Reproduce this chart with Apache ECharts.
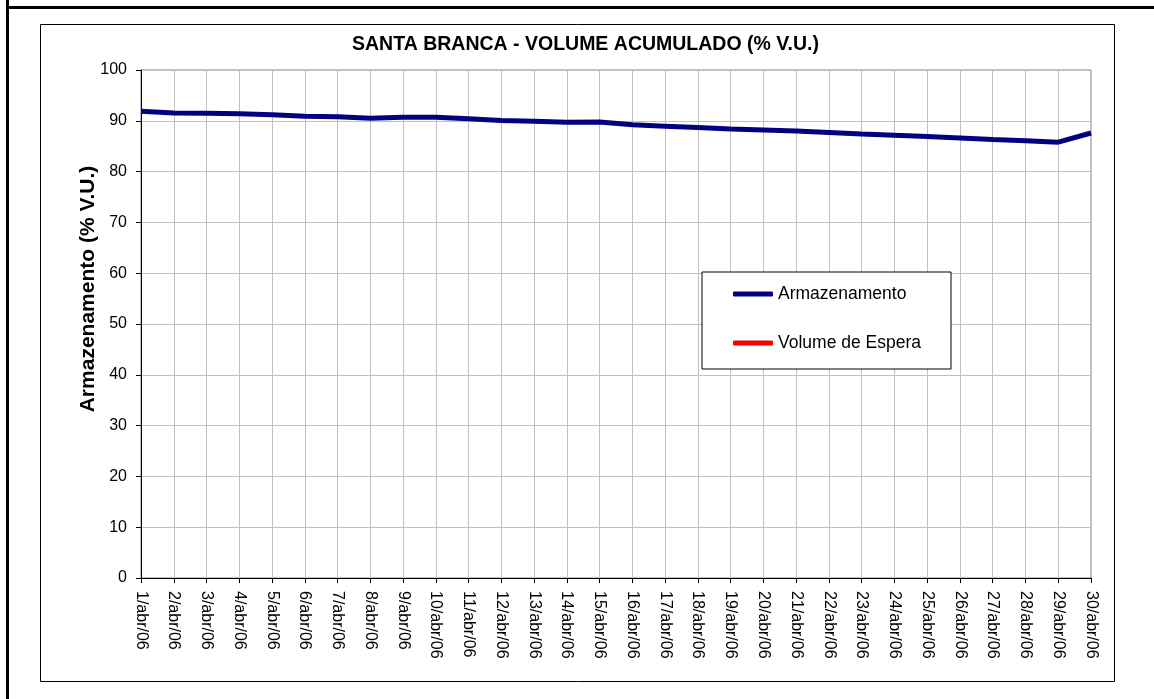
<!DOCTYPE html>
<html>
<head>
<meta charset="utf-8">
<script src="https://cdn.jsdelivr.net/npm/echarts@6/dist/echarts.min.js"></script>
<style>
html,body{margin:0;padding:0;background:#fff;}
#chart{width:1154px;height:699px;}
</style>
</head>
<body>
<div id="chart"></div>
<script>
const titleText = 'SANTA BRANCA - VOLUME ACUMULADO (% V.U.)';
const yAxisTitle = 'Armazenamento (% V.U.)';
const categories = ['1/abr/06','2/abr/06','3/abr/06','4/abr/06','5/abr/06','6/abr/06','7/abr/06','8/abr/06','9/abr/06','10/abr/06',
  '11/abr/06','12/abr/06','13/abr/06','14/abr/06','15/abr/06','16/abr/06','17/abr/06','18/abr/06','19/abr/06','20/abr/06',
  '21/abr/06','22/abr/06','23/abr/06','24/abr/06','25/abr/06','26/abr/06','27/abr/06','28/abr/06','29/abr/06','30/abr/06'];
const armazenamento = [91.9,91.55,91.5,91.4,91.2,90.9,90.8,90.5,90.7,90.7,
  90.4,90.05,89.9,89.7,89.75,89.2,88.95,88.7,88.4,88.2,
  88.0,87.7,87.4,87.15,86.9,86.6,86.3,86.05,85.8,87.6];
const volumeEspera = [];
const yMin = 0, yMax = 100, yStep = 10;

const FONT = 'Liberation Sans, Arial, Helvetica, sans-serif';
const chart = echarts.init(document.getElementById('chart'), null, {renderer:'canvas'});
chart.setOption({
  backgroundColor:'#ffffff',
  animation:false,
  textStyle:{fontFamily:FONT,color:'#000'},
  title:{
    text:titleText, left:352, top:35, padding:0,
    textStyle:{fontFamily:FONT,fontSize:19.5,fontWeight:'bold',color:'#000'}
  },
  graphic:[
    {type:'rect', shape:{x:6,y:0,width:3,height:699}, style:{fill:'#000'}, silent:true},
    {type:'rect', shape:{x:6,y:6,width:1148,height:3}, style:{fill:'#000'}, silent:true},
    {type:'rect', shape:{x:40.5,y:24.5,width:1074,height:657}, style:{fill:'none',stroke:'#000',lineWidth:1}, silent:true},
    {type:'text', x:88, y:289, rotation:Math.PI/2,
      style:{text:yAxisTitle, fontFamily:FONT, fontSize:21, fontWeight:'bold', fill:'#000', textAlign:'center', textVerticalAlign:'middle'}, silent:true}
  ],
  grid:{left:141, top:70, right:63, bottom:121, show:true, borderColor:'#808080', borderWidth:1, backgroundColor:'transparent'},
  legend:{
    orient:'vertical', left:702, top:272,
    padding:[13,30,17,31], itemGap:31, itemWidth:40, itemHeight:5, itemTextGap:1,
    icon:'roundRect',
    backgroundColor:'#fff', borderColor:'#000', borderWidth:1, borderRadius:0,
    textStyle:{fontFamily:FONT,fontSize:17.5,color:'#000',lineHeight:18},
    data:['Armazenamento','Volume de Espera']
  },
  xAxis:{
    type:'category', data:categories, boundaryGap:false,
    axisLine:{lineStyle:{color:'#000',width:1}},
    axisTick:{show:true, length:5, inside:false, lineStyle:{color:'#000'}},
    axisLabel:{rotate:-90, margin:13, fontFamily:FONT, fontSize:16, color:'#000', interval:0},
    splitLine:{show:true, lineStyle:{color:'#c0c0c0',width:1}}
  },
  yAxis:{
    type:'value', min:yMin, max:yMax, interval:yStep,
    axisLine:{show:true, lineStyle:{color:'#000',width:1}},
    axisTick:{show:true, length:5, inside:false, lineStyle:{color:'#000'}},
    axisLabel:{margin:14, fontFamily:FONT, fontSize:16, color:'#000'},
    splitLine:{show:true, lineStyle:{color:'#c0c0c0',width:1}}
  },
  series:[
    {name:'Armazenamento', type:'line', data:armazenamento, symbol:'none', showSymbol:false,
      lineStyle:{color:'#000080', width:5}, itemStyle:{color:'#000080'}, z:3},
    {name:'Volume de Espera', type:'line', data:volumeEspera, symbol:'none', showSymbol:false,
      lineStyle:{color:'#ff0000', width:4}, itemStyle:{color:'#ff0000'}, z:2}
  ]
});
</script>
</body>
</html>
